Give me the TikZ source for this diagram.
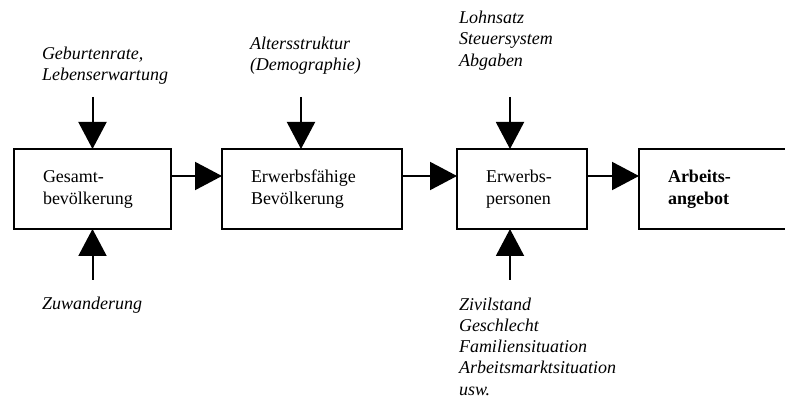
\documentclass[tikz,border=0pt]{standalone}
\usepackage{fontspec}
\setmainfont{Liberation Serif}
\usetikzlibrary{arrows.meta,positioning}
\begin{document}
\begin{tikzpicture}[x=1pt,y=-1pt,line width=2pt,>={Triangle[length=27pt,width=28pt]},
	box/.style={draw,outer sep=0pt,minimum height=80pt,inner xsep=29pt,inner ysep=0pt,align=left,font=\fontsize{18}{22}\selectfont},
	lbl/.style={anchor=west,inner sep=0pt,align=left,font=\fontsize{18}{21.3}\selectfont\itshape}]
	\clip (0,0) rectangle (785,398);
	\node[box,text width=99pt,anchor=north west] (ges) at (14,149) {Gesamt-\\bevölkerung};
	\node[box,text width=122pt,right=51pt of ges] (erw) {Erwerbsfähige\\Bevölkerung};
	\node[box,text width=72pt,right=55pt of erw] (pers) {Erwerbs-\\personen};
	\node[box,text width=110pt,right=52pt of pers,font=\fontsize{18}{22}\selectfont\bfseries] (ang) {Arbeits-\\angebot};
	\draw[->] ([yshift=13pt]ges.east) -- ([yshift=13pt]erw.west);
	\draw[->] ([yshift=13pt]erw.east) -- ([yshift=13pt]pers.west);
	\draw[->] ([yshift=13pt]pers.east) -- ([yshift=13pt]ang.west);
	% Einflussgroessen
	\node[lbl] (geb) at (41,65.5) {Geburtenrate,\\Lebenserwartung};
	\node[lbl] (alt) at (249,55.5) {Altersstruktur\\(Demographie)};
	\node[lbl] (lohn) at (458,40.5) {Lohnsatz\\Steuersystem\\Abgaben};
	\node[lbl] (zuw) at (41,305) {Zuwanderung};
	\node[lbl] (ziv) at (458,346.5) {Zivilstand\\Geschlecht\\Familiensituation\\Arbeitsmarktsituation\\usw.};
	\coordinate (gebin) at ([yshift=52pt]ges.north);
	\coordinate (altin) at ([xshift=-11pt,yshift=52pt]erw.north);
	\coordinate (lohnin) at ([xshift=-12pt,yshift=52pt]pers.north);
	\coordinate (zuwin) at ([yshift=-51pt]ges.south);
	\coordinate (zivin) at ([xshift=-12pt,yshift=-51pt]pers.south);
	\draw[->] (gebin) -- (ges.north);
	\draw[->] (altin) -- ([xshift=-11pt]erw.north);
	\draw[->] (lohnin) -- ([xshift=-12pt]pers.north);
	\draw[->] (zuwin) -- (ges.south);
	\draw[->] (zivin) -- ([xshift=-12pt]pers.south);
\end{tikzpicture}
\end{document}
